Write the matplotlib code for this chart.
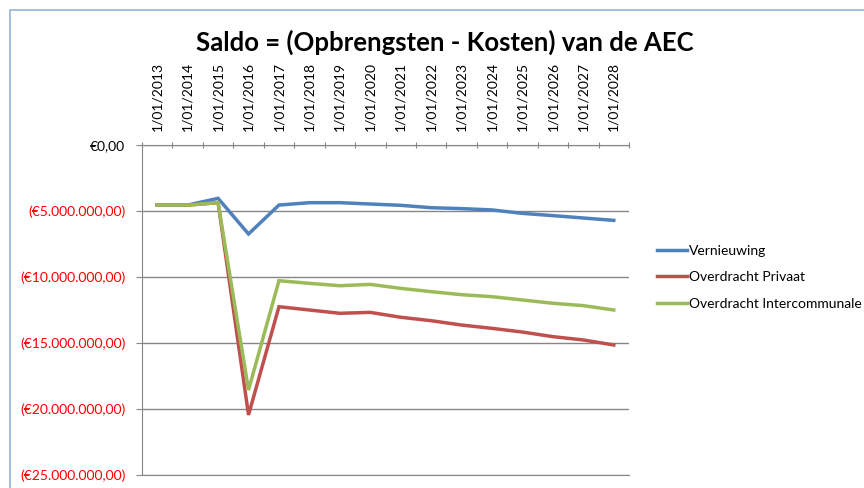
import numpy as np
import matplotlib
matplotlib.use('Agg')
from matplotlib import pyplot as plt
from matplotlib.patches import Rectangle
from matplotlib.ticker import FuncFormatter

plt.rc('font', family=['Lato', 'DejaVu Sans'])

# data (values in euro)
dates = ['1/01/%d' % y for y in range(2013, 2029)]
vernieuwing = np.array([-4.55, -4.55, -4.04, -6.74, -4.55, -4.37, -4.37, -4.47,
                        -4.57, -4.75, -4.82, -4.92, -5.18, -5.35, -5.53, -5.71]) * 1e6
privaat = np.array([-4.55, -4.55, -4.37, -20.45, -12.25, -12.5, -12.75, -12.68,
                    -13.05, -13.31, -13.64, -13.89, -14.17, -14.52, -14.77, -15.15]) * 1e6
intercommunale = np.array([-4.55, -4.55, -4.37, -18.56, -10.28, -10.48, -10.66, -10.56,
                           -10.86, -11.11, -11.34, -11.49, -11.74, -11.99, -12.17, -12.5]) * 1e6
series = [('Vernieuwing', vernieuwing, '#4F81BD'),
          ('Overdracht Privaat', privaat, '#C0504D'),
          ('Overdracht Intercommunale', intercommunale, '#9BBB59')]
yticks = [0, -5e6, -10e6, -15e6, -20e6, -25e6]

W, H = 864, 488
fig = plt.figure(figsize=(W / 100, H / 100), dpi=100)

# chart frame (light blue border, cut off at right/bottom)
fig.patches.append(Rectangle((10 / W, -0.1), 1.2, 1.1 - 10 / H, transform=fig.transFigure,
                             fill=False, edgecolor='#95b3d7', lw=1.2))

ax = fig.add_axes([142 / W, 13 / H, (629 - 142) / W, (475 - 145) / H])

x = np.arange(len(dates)) + 0.5
for name, vals, col in series:
    ax.plot(x, vals, color=col, lw=2.5, label=name, solid_joinstyle='miter')

ax.set_xlim(0, len(dates))
ax.set_ylim(-25e6, 0)

# x axis on top: tick marks at boundaries, labels at centers
ax.xaxis.tick_top()
ax.set_xticks(np.arange(len(dates) + 1))
ax.set_xticklabels([])
ax.set_xticks(x, minor=True)
ax.set_xticklabels(dates, minor=True, rotation=90, fontsize=10)
ax.tick_params(axis='x', which='major', direction='inout', length=5, color='#868686')
ax.tick_params(axis='x', which='minor', length=0, pad=10)


def euro(v, pos):
    s = '{:,.2f}'.format(abs(v)).replace(',', 'X').replace('.', ',').replace('X', '.')
    return '€' + s if v >= 0 else '(€' + s + ')'


ax.set_yticks(yticks)
ax.yaxis.set_major_formatter(FuncFormatter(euro))
ax.tick_params(axis='y', direction='out', length=4, color='#868686', labelsize=10, pad=8)
for lab, v in zip(ax.get_yticklabels(), yticks):
    lab.set_color('black' if v >= 0 else '#ff0000')

ax.grid(axis='y', color='#868686', lw=1)
ax.set_axisbelow(True)
ax.spines['right'].set_visible(False)
for s in ['top', 'left', 'bottom']:
    ax.spines[s].set_color('#868686')

fig.text(445 / W, 1 - 42 / H, 'Saldo = (Opbrengsten - Kosten) van de AEC',
         ha='center', va='center', fontsize=18.5, fontweight='bold')

fig.legend(loc='upper left', bbox_to_anchor=(651 / W, 1 - 239 / H), frameon=False,
           fontsize=10, handlelength=2.2, handletextpad=0.15, labelspacing=1.05,
           borderaxespad=0)

fig.savefig('out.png', dpi=100)
